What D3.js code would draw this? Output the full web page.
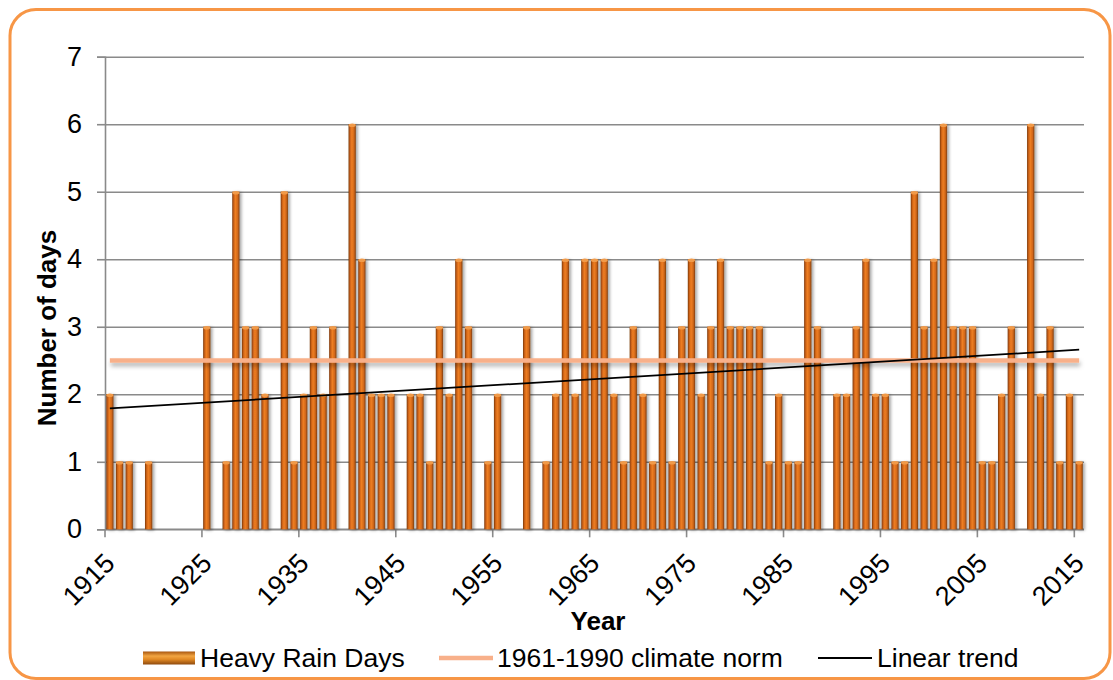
<!DOCTYPE html>
<html>
<head>
<meta charset="utf-8">
<script src="https://cdn.jsdelivr.net/npm/d3@7"></script>
<style>
  body { margin: 0; background: #fff; }
  text { font-family: "Liberation Sans", Arial, sans-serif; fill: #000; }
</style>
</head>
<body>
<script>
const width = 1113;
const height = 680;

// data
const years = d3.range(1915, 2016);
const rainDays = [
  2, 1, 1, 0, 1, 0, 0, 0, 0, 0,   // 1915-1924
  3, 0, 1, 5, 3, 3, 2, 0, 5, 1,   // 1925-1934
  2, 3, 2, 3, 0, 6, 4, 2, 2, 2,   // 1935-1944
  0, 2, 2, 1, 3, 2, 4, 3, 0, 1,   // 1945-1954
  2, 0, 0, 3, 0, 1, 2, 4, 2, 4,   // 1955-1964
  4, 4, 2, 1, 3, 2, 1, 4, 1, 3,   // 1965-1974
  4, 2, 3, 4, 3, 3, 3, 3, 1, 2,   // 1975-1984
  1, 1, 4, 3, 0, 2, 2, 3, 4, 2,   // 1985-1994
  2, 1, 1, 5, 3, 4, 6, 3, 3, 3,   // 1995-2004
  1, 1, 2, 3, 0, 6, 2, 3, 1, 2,   // 2005-2014
  1                               // 2015
];
const climateNorm = 2.5;
const trendEnds = [1.79, 2.66];   // linear trend at 1915 and 2015
const yTicks = [0, 1, 2, 3, 4, 5, 6, 7];
const labelYears = d3.range(1915, 2016, 10);
const legendNames = ['Heavy Rain Days', '1961-1990 climate norm', 'Linear trend'];

const plot = {left: 105, right: 1084, top: 56.7, bottom: 529.3};

const svg = d3.select('body')
    .append('svg')
    .attr('width', width)
    .attr('height', height);

const defs = svg.append('defs');
const barGrad = defs.append('linearGradient')
    .attr('id', 'barGrad')
    .attr('x1', 0).attr('x2', 1).attr('y1', 0).attr('y2', 0);
barGrad.append('stop').attr('offset', '0%').attr('stop-color', '#7a380b');
barGrad.append('stop').attr('offset', '22%').attr('stop-color', '#cc6218');
barGrad.append('stop').attr('offset', '45%').attr('stop-color', '#ee7e22');
barGrad.append('stop').attr('offset', '75%').attr('stop-color', '#d2681a');
barGrad.append('stop').attr('offset', '100%').attr('stop-color', '#7e3d0e');

const legGrad = defs.append('linearGradient')
    .attr('id', 'legGrad')
    .attr('x1', 0).attr('x2', 0).attr('y1', 0).attr('y2', 1);
legGrad.append('stop').attr('offset', '0%').attr('stop-color', '#a8560f');
legGrad.append('stop').attr('offset', '35%').attr('stop-color', '#f2a542');
legGrad.append('stop').attr('offset', '60%').attr('stop-color', '#e28a25');
legGrad.append('stop').attr('offset', '100%').attr('stop-color', '#8e4a0e');

const barShadow = defs.append('filter').attr('id', 'barShadow')
    .attr('filterUnits', 'userSpaceOnUse')
    .attr('x', 0).attr('y', 0).attr('width', width).attr('height', height);
barShadow.append('feDropShadow')
    .attr('dx', 2).attr('dy', 1).attr('stdDeviation', 1.4)
    .attr('flood-color', '#000').attr('flood-opacity', 0.35);

const lineShadow = defs.append('filter').attr('id', 'lineShadow')
    .attr('filterUnits', 'userSpaceOnUse')
    .attr('x', 0).attr('y', 0).attr('width', width).attr('height', height);
lineShadow.append('feDropShadow')
    .attr('dx', 1).attr('dy', 3.5).attr('stdDeviation', 2)
    .attr('flood-color', '#000').attr('flood-opacity', 0.3);

// frame
svg.append('rect')
    .attr('x', 10).attr('y', 9.5)
    .attr('width', 1100).attr('height', 669)
    .attr('rx', 26).attr('ry', 26)
    .attr('fill', '#fff')
    .attr('stroke', '#f79646')
    .attr('stroke-width', 3);

const x = d3.scaleBand()
    .domain(years)
    .range([plot.left, plot.right])
    .paddingInner(0.25)
    .paddingOuter(0.125);
const y = d3.scaleLinear()
    .domain([0, 7])
    .range([plot.bottom, plot.top]);
const cx = d => x(d) + x.bandwidth() / 2;
const boundary = d => x(d) - (x.step() - x.bandwidth()) / 2;

// gridlines
svg.append('g')
    .attr('transform', `translate(${plot.left},0)`)
    .call(d3.axisLeft(y).tickValues(yTicks).tickSize(-(plot.right - plot.left)).tickFormat(''))
    .call(g => g.select('.domain').remove())
    .call(g => g.selectAll('line').attr('stroke', '#8a8a8a').attr('stroke-width', 1.6));

// y axis
svg.append('g')
    .attr('transform', `translate(${plot.left},0)`)
    .call(d3.axisLeft(y).tickValues(yTicks).tickFormat(d3.format('d')).tickSize(8).tickPadding(15))
    .call(g => g.select('.domain').attr('stroke', '#8a8a8a').attr('stroke-width', 1.6))
    .call(g => g.selectAll('line').attr('stroke', '#8a8a8a').attr('stroke-width', 1.6))
    .call(g => g.selectAll('text')
        .attr('font-size', 27)
        .attr('font-family', '"Liberation Sans", Arial, sans-serif')
        .attr('fill', '#000'));

// x axis line and ticks at category boundaries
const xAxis = svg.append('g');
xAxis.append('line')
    .attr('x1', plot.left).attr('x2', plot.right)
    .attr('y1', plot.bottom).attr('y2', plot.bottom)
    .attr('stroke', '#8a8a8a').attr('stroke-width', 1.6);
xAxis.selectAll('.tick')
    .data(labelYears)
    .enter().append('line')
    .attr('x1', d => boundary(d)).attr('x2', d => boundary(d))
    .attr('y1', plot.bottom).attr('y2', plot.bottom + 8)
    .attr('stroke', '#8a8a8a').attr('stroke-width', 1.6);
xAxis.selectAll('text')
    .data(labelYears)
    .enter().append('text')
    .attr('transform', d => `translate(${cx(d) - 7},${plot.bottom + 22}) rotate(-45)`)
    .attr('text-anchor', 'end')
    .attr('dy', '0.71em')
    .attr('font-size', 27)
    .text(d => d);

// bars
const bars = svg.append('g').attr('filter', 'url(#barShadow)');
const data = years.map((yr, i) => ({year: yr, value: rainDays[i]})).filter(d => d.value > 0);
bars.selectAll('rect')
    .data(data)
    .enter().append('rect')
    .attr('x', d => x(d.year))
    .attr('y', d => y(d.value))
    .attr('width', x.bandwidth())
    .attr('height', d => y(0) - y(d.value))
    .attr('fill', 'url(#barGrad)');
bars.selectAll('ellipse')
    .data(data)
    .enter().append('ellipse')
    .attr('cx', d => cx(d.year))
    .attr('cy', d => y(d.value) + 1)
    .attr('rx', x.bandwidth() / 2)
    .attr('ry', 1.8)
    .attr('fill', '#f09a4a');

// climate norm
svg.append('line')
    .attr('x1', cx(years[0])).attr('x2', cx(years[years.length - 1]))
    .attr('y1', y(climateNorm)).attr('y2', y(climateNorm))
    .attr('stroke', '#f8b08a')
    .attr('stroke-width', 4.5)
    .attr('filter', 'url(#lineShadow)');

// linear trend
svg.append('line')
    .attr('x1', cx(years[0])).attr('x2', cx(years[years.length - 1]))
    .attr('y1', y(trendEnds[0])).attr('y2', y(trendEnds[1]))
    .attr('stroke', '#000')
    .attr('stroke-width', 1.8);

// axis titles
svg.append('text')
    .attr('transform', 'translate(56,328) rotate(-90)')
    .attr('text-anchor', 'middle')
    .attr('font-size', 26)
    .attr('font-weight', 'bold')
    .text('Number of days');
svg.append('text')
    .attr('x', 598).attr('y', 630)
    .attr('text-anchor', 'middle')
    .attr('font-size', 26)
    .attr('font-weight', 'bold')
    .text('Year');

// legend
const legY = 658;
const leg = svg.append('g');
leg.append('rect')
    .attr('x', 143).attr('y', legY - 6.5)
    .attr('width', 52).attr('height', 13)
    .attr('fill', 'url(#legGrad)');
leg.append('line')
    .attr('x1', 439).attr('x2', 493).attr('y1', legY).attr('y2', legY)
    .attr('stroke', '#f8b08a').attr('stroke-width', 4.5);
leg.append('line')
    .attr('x1', 818).attr('x2', 872).attr('y1', legY).attr('y2', legY)
    .attr('stroke', '#000').attr('stroke-width', 1.8);
leg.selectAll('text')
    .data(legendNames)
    .enter().append('text')
    .attr('x', (d, i) => [200, 497, 877][i])
    .attr('y', legY)
    .attr('dy', '0.35em')
    .attr('font-size', 26.5)
    .text(d => d);
</script>
</body>
</html>
